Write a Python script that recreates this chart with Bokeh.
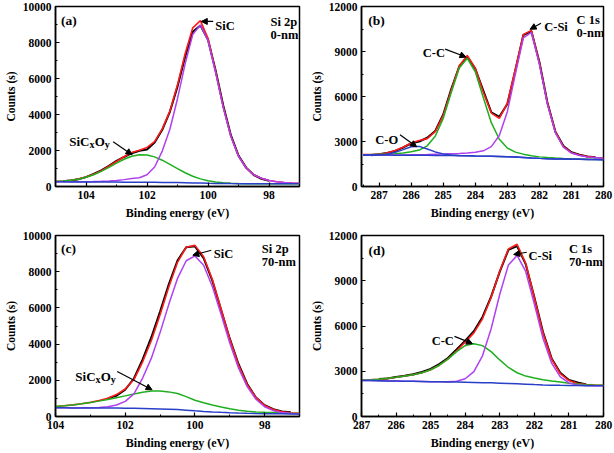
from bokeh.plotting import figure
from bokeh.models import Range1d, FixedTicker, Label, Arrow, NormalHead
from bokeh.layouts import column, row
from bokeh.embed import file_html
from bokeh.resources import INLINE

# ---------------- data ----------------
# Panel (a) Si 2p, 0-nm
a_energy = [105.0, 104.75, 104.5, 104.25, 104.0, 103.75, 103.5, 103.25, 103.0, 102.75, 102.5,
            102.25, 102.0, 101.75, 101.5, 101.25, 101.0, 100.75, 100.5, 100.25, 100.0, 99.75,
            99.5, 99.25, 99.0, 98.75, 98.5, 98.25, 98.0, 97.75, 97.5, 97.25, 97.0]
a_background = [260, 258, 256, 254, 252, 250, 248, 246, 244, 242, 240, 238, 236, 233, 229, 224, 218,
                210, 200, 190, 180, 172, 166, 161, 158, 156, 155, 154, 153, 152, 151, 150, 150]
a_sicxoy = [282, 303, 343, 408, 510, 655, 842, 1063, 1298, 1515, 1680, 1765, 1753, 1645, 1461, 1231,
            989, 763, 572, 424, 318, 248, 206, 180, 167, 156, 155, 154, 153, 152, 151, 150, 150]
a_sic = [260, 258, 261, 264, 267, 275, 288, 306, 334, 382, 450, 488, 656, 1083, 1969, 3179, 4878,
         6820, 8445, 8980, 8100, 6322, 4381, 2776, 1681, 1030, 655, 454, 333, 262, 221, 195, 180]
a_envelope = [282, 303, 348, 418, 525, 680, 882, 1123, 1388, 1655, 1890, 2015, 2173, 2495, 3201, 4186,
              5649, 7373, 8817, 9214, 8238, 6398, 4421, 2795, 1690, 1030, 655, 454, 333, 262, 221, 195, 180]
a_raw_energy = a_energy[1:29]
a_raw = [290, 330, 400, 520, 700, 900, 1150, 1420, 1640, 1850, 1990, 2060, 2450, 3150, 4150, 5550,
         7200, 8600, 8950, 8150, 6450, 4500, 2850, 1720, 1050, 640, 430, 320]

# Panel (b) C 1s, 0-nm
b_energy = [287.5, 287.25, 287.0, 286.75, 286.5, 286.25, 286.0, 285.75, 285.5, 285.25, 285.0,
            284.75, 284.5, 284.25, 284.0, 283.75, 283.5, 283.25, 283.0, 282.75, 282.5, 282.25,
            282.0, 281.75, 281.5, 281.25, 281.0, 280.75, 280.5, 280.25, 280.0]
b_background = [2100, 2098, 2095, 2092, 2090, 2087, 2084, 2080, 2077, 2074, 2070, 2065, 2058, 2048,
                2036, 2025, 2015, 2005, 1990, 1970, 1940, 1905, 1875, 1855, 1840, 1830, 1820, 1812,
                1805, 1798, 1790]
b_co = [2100, 2103, 2110, 2152, 2279, 2459, 2648, 2675, 2504, 2306, 2174, 2095, 2070, 2053, 2036,
        2025, 2015, 2005, 1990, 1970, 1940, 1905, 1875, 1855, 1840, 1830, 1820, 1812, 1805, 1798, 1790]
b_cc = [2125, 2133, 2145, 2162, 2190, 2227, 2310, 2430, 2714, 3351, 4544, 6268, 7900, 8550, 7650,
        5929, 4256, 3149, 2562, 2293, 2157, 2045, 1975, 1930, 1895, 1870, 1850, 1834, 1820, 1808, 1795]
b_csi = [2100, 2098, 2100, 2102, 2105, 2107, 2114, 2120, 2127, 2144, 2160, 2181, 2202, 2229, 2276,
         2379, 2655, 3396, 4988, 7491, 9910, 10270, 8162, 5486, 3578, 2616, 2227, 2073, 1975, 1928, 1890]
b_envelope = [2125, 2138, 2165, 2232, 2394, 2619, 2904, 3065, 3191, 3653, 4738, 6414, 8050, 8730,
              7890, 6283, 4896, 4540, 5560, 7814, 10127, 10410, 8262, 5561, 3633, 2656, 2257, 2095,
              1990, 1938, 1895]
b_raw_energy = b_energy[1:30]
b_raw = [2080, 2150, 2230, 2370, 2600, 2880, 3000, 3250, 3700, 4800, 6500, 8000, 8650, 7850, 6400,
         4950, 4650, 5500, 7750, 10100, 10350, 8300, 5600, 3650, 2700, 2280, 2120, 2000, 1950]

# Panel (c) Si 2p, 70-nm
c_energy = [104.0, 103.75, 103.5, 103.25, 103.0, 102.75, 102.5, 102.25, 102.0, 101.75, 101.5,
            101.25, 101.0, 100.75, 100.5, 100.25, 100.0, 99.75, 99.5, 99.25, 99.0, 98.75, 98.5,
            98.25, 98.0, 97.75, 97.5, 97.25, 97.0]
c_background = [480, 478, 476, 474, 472, 470, 467, 463, 458, 452, 444, 433, 420, 403, 380, 350, 315,
                282, 253, 228, 208, 192, 178, 166, 157, 150, 146, 143, 140]
c_sicxoy = [555, 590, 640, 700, 770, 850, 940, 1040, 1140, 1240, 1340, 1410, 1410, 1360, 1270, 1100,
            900, 760, 640, 530, 430, 350, 295, 255, 230, 215, 195, 180, 170]
c_sic = [480, 478, 476, 478, 484, 504, 537, 633, 838, 1252, 2126, 3224, 4635, 6196, 7629, 8604, 8870,
         8352, 7181, 5642, 4058, 2685, 1647, 954, 541, 321, 215, 170, 150]
c_envelope = [555, 590, 640, 704, 782, 884, 1010, 1210, 1520, 2040, 3022, 4201, 5625, 7153, 8519,
              9354, 9455, 8830, 7568, 5944, 4280, 2843, 1764, 1043, 614, 386, 264, 207, 180]
c_raw_energy = c_energy[6:28]
c_raw = [1000, 1150, 1480, 2100, 3150, 4380, 5800, 7300, 8620, 9350, 9400, 8750, 7500, 5900, 4300,
         2900, 1800, 1050, 620, 400, 280, 230]

# Panel (d) C 1s, 70-nm
d_energy = [287.0, 286.75, 286.5, 286.25, 286.0, 285.75, 285.5, 285.25, 285.0, 284.75, 284.5,
            284.25, 284.0, 283.75, 283.5, 283.25, 283.0, 282.75, 282.5, 282.25, 282.0, 281.75,
            281.5, 281.25, 281.0, 280.75, 280.5, 280.25, 280.0]
d_background = [2390, 2380, 2370, 2360, 2350, 2340, 2330, 2320, 2310, 2300, 2290, 2280, 2270, 2258,
                2245, 2230, 2212, 2190, 2165, 2140, 2115, 2095, 2080, 2068, 2058, 2050, 2045, 2040, 2038]
d_cc = [2400, 2430, 2470, 2530, 2600, 2680, 2770, 2900, 3100, 3400, 3800, 4300, 4700, 4830, 4700,
        4300, 3750, 3250, 2900, 2680, 2550, 2440, 2350, 2280, 2210, 2150, 2110, 2080, 2070]
d_csi = [2390, 2380, 2370, 2360, 2350, 2340, 2330, 2320, 2310, 2300, 2304, 2342, 2503, 2971, 4021,
         5821, 8108, 10050, 10680, 9616, 7449, 5186, 3534, 2623, 2230, 2093, 2054, 2040, 2038]
d_envelope = [2400, 2430, 2470, 2530, 2600, 2680, 2770, 2900, 3100, 3400, 3814, 4362, 4933, 5543,
              6476, 7891, 9646, 11110, 11415, 10156, 7884, 5531, 3804, 2835, 2382, 2193, 2119, 2080, 2070]
d_raw_energy = d_energy[2:27]
d_raw = [2480, 2520, 2620, 2700, 2800, 2950, 3150, 3480, 3880, 4450, 5030, 5650, 6600, 7950, 9600,
         11050, 11300, 10100, 7900, 5600, 3850, 2900, 2420, 2250, 2130]

# tick labels
si_x_ticks = [104, 102, 100, 98]
c_x_ticks = [287, 286, 285, 284, 283, 282, 281, 280]
si_y_ticks = [0, 2000, 4000, 6000, 8000, 10000]
c_y_ticks = [0, 3000, 6000, 9000, 12000]

# ---------------- styling ----------------
FONT = "Liberation Serif"
BLACK = "#000000"
RED = "#ff1a1a"
GREEN = "#1fae1f"
PURPLE = "#b040f0"
BLUE = "#2a3fc8"


def make_panel(width, height, xr, yr, xt, xminor, yt, yminor, borders):
    left, right, top, bottom = borders
    p = figure(width=width, height=height, x_range=Range1d(*xr), y_range=Range1d(*yr),
               output_backend="svg", toolbar_location=None,
               min_border_left=left, min_border_right=right,
               min_border_top=top, min_border_bottom=bottom)
    p.background_fill_color = "white"
    p.border_fill_color = "white"
    p.grid.visible = False
    p.outline_line_color = "black"
    p.outline_line_width = 1.5
    p.outline_line_alpha = 1.0
    p.xaxis.ticker = FixedTicker(ticks=xt, minor_ticks=xminor)
    p.yaxis.ticker = FixedTicker(ticks=yt, minor_ticks=yminor)
    p.xaxis.axis_label = "Binding energy (eV)"
    p.yaxis.axis_label = "Counts (s)"
    for ax in (p.xaxis, p.yaxis):
        ax.axis_line_width = 1.5
        ax.axis_line_color = "black"
        ax.major_tick_line_color = "black"
        ax.minor_tick_line_color = "black"
        ax.major_tick_line_width = 1.2
        ax.minor_tick_line_width = 1.0
        ax.major_tick_in = 4
        ax.major_tick_out = 0
        ax.minor_tick_in = 2
        ax.minor_tick_out = 0
        ax.major_label_text_font = FONT
        ax.major_label_text_font_style = "bold"
        ax.major_label_text_font_size = "11.5px"
        ax.major_label_text_color = "black"
        ax.axis_label_text_font = FONT
        ax.axis_label_text_font_style = "bold"
        ax.axis_label_text_color = "black"
    p.xaxis.major_label_standoff = 4
    p.xaxis.axis_label_standoff = 4
    p.xaxis.axis_label_text_font_size = "12px"
    p.yaxis.major_label_standoff = 4
    p.yaxis.axis_label_standoff = 3
    p.yaxis.axis_label_text_font_size = "11.5px"
    return p


def draw_curves(p, energy, envelope, comps, raw_energy, raw):
    p.line(raw_energy, raw, line_color=BLACK, line_width=2)
    p.line(energy, envelope, line_color=RED, line_width=1.6)
    for vals, col in comps:
        p.line(energy, vals, line_color=col, line_width=1.5)


def text(p, x, y, s, size="12.5px", align="left", baseline="alphabetic", xo=0, yo=0):
    p.add_layout(Label(x=x, y=y, text=s, text_font=FONT, text_font_style="bold",
                       text_font_size=size, text_align=align, text_baseline=baseline,
                       text_color="black", x_offset=xo, y_offset=yo))


def arrow(p, x0, y0, x1, y1):
    p.add_layout(Arrow(end=NormalHead(size=6, fill_color="black", line_color="black", line_width=1),
                       x_start=x0, y_start=y0, x_end=x1, y_end=y1,
                       line_color="black", line_width=1.2))


def sicxoy(p, x, y):
    text(p, x, y, "SiC", size="13px")
    text(p, x, y, "x", size="10px", xo=20.2, yo=-3)
    text(p, x, y, "O", size="13px", xo=25.4)
    text(p, x, y, "y", size="10px", xo=35.5, yo=-3)


# ---------------- panels ----------------
pa = make_panel(307, 226, (105, 97), (0, 10000), si_x_ticks, [105, 103, 101, 99, 97],
                si_y_ticks, [1000, 3000, 5000, 7000, 9000], (55, 8, 6, 40))
draw_curves(pa, a_energy, a_envelope, [(a_sicxoy, GREEN), (a_sic, PURPLE), (a_background, BLUE)],
            a_raw_energy, a_raw)
text(pa, 104.82, 9250, "(a)", size="13.5px", baseline="middle")
text(pa, 97.95, 9133, "Si 2p")
text(pa, 97.95, 8436, "0-nm")
text(pa, 99.76, 8895, "SiC")
arrow(pa, 99.83, 9170, 100.22, 9170)
sicxoy(pa, 104.55, 2486)
arrow(pa, 103.11, 2486, 102.49, 1768)

pb = make_panel(307, 226, (287.55, 280), (0, 12000), c_x_ticks,
                [287.5, 286.5, 285.5, 284.5, 283.5, 282.5, 281.5, 280.5],
                c_y_ticks, [1500, 4500, 7500, 10500], (51, 11, 6, 40))
draw_curves(pb, b_energy, b_envelope,
            [(b_cc, GREEN), (b_csi, PURPLE), (b_background, BLUE), (b_co, BLUE)],
            b_raw_energy, b_raw)
text(pb, 287.34, 11080, "(b)", size="13.5px", baseline="middle")
text(pb, 280.84, 11130, "C 1s")
text(pb, 280.84, 10220, "0-nm")
text(pb, 281.85, 10650, "C-Si")
arrow(pb, 281.95, 10880, 282.29, 10480)
text(pb, 285.64, 8890, "C-C")
arrow(pb, 284.94, 9160, 284.29, 8630)
text(pb, 287.12, 3120, "C-O")
arrow(pb, 286.35, 3450, 285.83, 2650)

pc = make_panel(307, 227, (104, 97), (0, 10000), si_x_ticks, [103, 101, 99, 97],
                si_y_ticks, [1000, 3000, 5000, 7000, 9000], (55, 8, 9, 37))
draw_curves(pc, c_energy, c_envelope, [(c_sicxoy, GREEN), (c_sic, PURPLE), (c_background, BLUE)],
            c_raw_energy, c_raw)
text(pc, 103.84, 9270, "(c)", size="13.5px", baseline="middle")
text(pc, 98.08, 9258, "Si 2p")
text(pc, 98.08, 8522, "70-nm")
text(pc, 99.46, 8965, "SiC")
arrow(pc, 99.53, 9187, 100.06, 8910)
sicxoy(pc, 103.43, 2214)
arrow(pc, 102.23, 2490, 101.23, 1478)

pd = make_panel(307, 227, (287, 280), (0, 12000), c_x_ticks,
                [286.5, 285.5, 284.5, 283.5, 282.5, 281.5, 280.5],
                c_y_ticks, [1500, 4500, 7500, 10500], (51, 11, 9, 37))
draw_curves(pd, d_energy, d_envelope, [(d_cc, GREEN), (d_csi, PURPLE), (d_background, BLUE)],
            d_raw_energy, d_raw)
text(pd, 286.8, 11020, "(d)", size="13.5px", baseline="middle")
text(pd, 281.0, 11110, "C 1s")
text(pd, 281.0, 10230, "70-nm")
text(pd, 282.17, 10670, "C-Si")
arrow(pd, 282.22, 10890, 282.6, 10740)
text(pd, 284.97, 4980, "C-C")
arrow(pd, 284.31, 5310, 283.79, 4830)

layout = column(row(pa, pb), row(pc, pd))
open("out.html", "w").write(file_html(layout, INLINE, title="XPS"))
